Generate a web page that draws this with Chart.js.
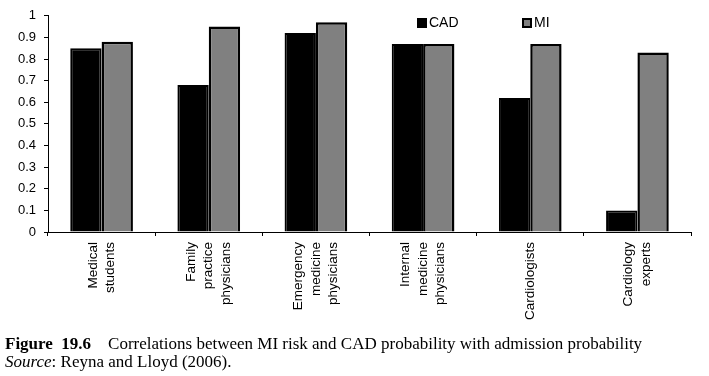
<!DOCTYPE html>
<html>
<head>
<meta charset="utf-8">
<script src="https://cdn.jsdelivr.net/npm/chart.js@4"></script>
<style>
  body { margin: 0; background: #fff; }
  .wrap { position: relative; width: 709px; height: 376px; }
  .legend { position: absolute; top: 14px; font: 14px "Liberation Sans", Arial, sans-serif; color: #000; }
  .legend span.box { display: inline-block; width: 10px; height: 10px; vertical-align: -1px; margin-right: 2px; box-sizing: border-box; }
  .cap { position: absolute; left: 5px; top: 335px; font: 17px "Liberation Serif", "Times New Roman", serif; color: #000; line-height: 18px; white-space: pre; }
</style>
</head>
<body>
<div class="wrap">
  <canvas id="myChart" width="709" height="376"></canvas>
  <div class="legend" style="left:417px"><span class="box" style="background:#000"></span>CAD</div>
  <div class="legend" style="left:522px"><span class="box" style="background:#808080;border:2px solid #000"></span>MI</div>
  <div class="cap"><b>Figure  19.6</b>    Correlations between MI risk and CAD probability with admission probability<br><i>Source</i>: Reyna and Lloyd (2006).</div>
</div>
<script>
/* data */
const categories = [
  ['Medical', 'students'],
  ['Family', 'practice', 'physicians'],
  ['Emergency', 'medicine', 'physicians'],
  ['Internal', 'medicine', 'physicians'],
  ['Cardiologists'],
  ['Cardiology', 'experts']
];
const cadValues = [0.85, 0.68, 0.92, 0.87, 0.62, 0.1];
const miValues = [0.88, 0.95, 0.97, 0.87, 0.87, 0.83];
const yTicks = [0, 0.1, 0.2, 0.3, 0.4, 0.5, 0.6, 0.7, 0.8, 0.9, 1];

/* rotated multi-line x labels, centred on the category */
const xLabels = {
  id: 'xLabels',
  afterDraw(chart) {
    const c = chart.ctx;
    const xs = chart.scales.x;
    const top = xs.top + 10;
    c.save();
    c.font = '13.5px "Liberation Sans", Arial, sans-serif';
    c.fillStyle = '#000';
    c.textAlign = 'right';
    c.textBaseline = 'middle';
    categories.forEach(function(lines, i){
      const px = xs.getPixelForValue(i);
      lines.forEach(function(t, j){
        const lx = px + (j - (lines.length - 1) / 2) * 17.5;
        c.save();
        c.translate(lx, top);
        c.rotate(-Math.PI / 2);
        c.fillText(t, 0, 0);
        c.restore();
      });
    });
    c.restore();
  }
};

const ctx = document.getElementById('myChart');

const myChart = new Chart(ctx, {
  type: 'bar',
  data: {
    labels: categories.map(function(l){ return l.join(' '); }),
    datasets: [{
      label: 'CAD',
      data: cadValues,
      backgroundColor: '#000',
      borderColor: '#000',
      borderWidth: 2
    }, {
      label: 'MI',
      data: miValues,
      backgroundColor: '#808080',
      borderColor: '#000',
      borderWidth: 2.5
    }]
  },
  plugins: [xLabels],
  options: {
    responsive: false,
    animation: false,
    events: [],
    layout: { padding: { top: 9, right: 18, left: 0, bottom: 0 } },
    plugins: {
      legend: { display: false },
      tooltip: { enabled: false }
    },
    datasets: {
      bar: { categoryPercentage: 0.585, barPercentage: 1 }
    },
    scales: {
      x: {
        grid: { drawOnChartArea: false, tickLength: 4, color: '#000', offset: true },
        border: { color: '#000', width: 1 },
        ticks: { display: false },
        afterFit: function(s){ s.height = 376 - 232; }
      },
      y: {
        min: 0,
        max: 1,
        afterBuildTicks: function(s){ s.ticks = yTicks.map(function(v){ return { value: v }; }); },
        grid: { drawOnChartArea: false, tickLength: 4, color: '#000' },
        border: { color: '#000', width: 1 },
        ticks: {
          color: '#000',
          padding: 8,
          font: { family: '"Liberation Sans", Arial, sans-serif', size: 13 },
          callback: function(v){ return String(Math.round(v * 10) / 10); }
        },
        afterFit: function(s){ s.width = 48; }
      }
    }
  }
});
</script>
</body>
</html>
